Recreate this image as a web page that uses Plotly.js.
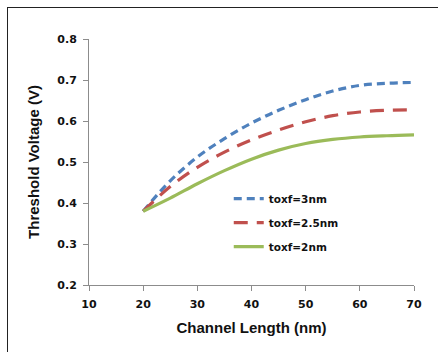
<!DOCTYPE html>
<html>
<head>
<meta charset="utf-8">
<script src="https://cdn.plot.ly/plotly-3.0.1.min.js"></script>
<style>
html,body{margin:0;padding:0;background:#fff;}
#wrap{position:relative;width:438px;height:352px;overflow:hidden;}
#chart{width:438px;height:352px;}
#frame{position:absolute;left:7px;top:7px;width:600px;height:600px;border-left:1.5px solid #222;border-top:1.5px solid #222;pointer-events:none;}
</style>
</head>
<body>
<div id="wrap"><div id="chart"></div><div id="frame"></div></div>
<script>
const channelLength = [20, 25, 30, 35, 40, 45, 50, 55, 60, 65, 70];
const vth_3nm   = [0.380, 0.454, 0.512, 0.557, 0.595, 0.626, 0.652, 0.673, 0.687, 0.692, 0.694];
const vth_2_5nm = [0.380, 0.440, 0.487, 0.524, 0.554, 0.578, 0.598, 0.613, 0.622, 0.626, 0.627];
const vth_2nm   = [0.380, 0.412, 0.447, 0.479, 0.507, 0.529, 0.545, 0.555, 0.561, 0.564, 0.566];
const seriesNames = ['toxf=3nm', 'toxf=2.5nm', 'toxf=2nm'];
const xTicks = [10, 20, 30, 40, 50, 60, 70];
const yTicks = [0.2, 0.3, 0.4, 0.5, 0.6, 0.7, 0.8];

const bold = 'Liberation Sans, Arial, sans-serif';
const traces = [
  {x: channelLength, y: vth_3nm, name: seriesNames[0], mode: 'lines', legendgroup: 'a',
   line: {color: '#4F81BD', width: 3.2, dash: '8px,5px', shape: 'spline'}},
  {x: channelLength, y: vth_2_5nm, name: seriesNames[1], mode: 'lines', legendgroup: 'b',
   line: {color: '#C0504D', width: 3.2, dash: '14px,9px', shape: 'spline'}},
  {x: channelLength, y: vth_2nm, name: seriesNames[2], mode: 'lines', legendgroup: 'c',
   line: {color: '#9BBB59', width: 3.2, shape: 'spline'}}
];
const layout = {
  width: 438, height: 352,
  margin: {l: 89, r: 24, t: 39, b: 67},
  paper_bgcolor: '#fff', plot_bgcolor: '#fff',
  showlegend: true,
  legend: {x: 0.43, y: 0.41, xanchor: 'left', yanchor: 'top', traceorder: 'grouped',
           tracegroupgap: 5, bgcolor: 'rgba(0,0,0,0)',
           font: {family: 'DejaVu Sans, sans-serif', size: 10.5, color: '#111', weight: 'bold'}},
  xaxis: {range: [10, 70], tickvals: xTicks, ticktext: xTicks.map(String),
          showgrid: false, zeroline: false, showline: true, linecolor: '#8c8c8c', linewidth: 1,
          ticks: 'outside', ticklen: 5, tickcolor: '#8c8c8c', ticklabelstandoff: 4,
          tickfont: {family: 'DejaVu Sans, sans-serif', size: 11, color: '#111', weight: 'bold'},
          title: {text: 'Channel Length (nm)', standoff: 12,
                  font: {family: bold, size: 15, color: '#111', weight: 'bold'}}},
  yaxis: {range: [0.2, 0.8], tickvals: yTicks, ticktext: yTicks.map(v => v.toFixed(1)),
          showgrid: false, zeroline: false, showline: true, linecolor: '#8c8c8c', linewidth: 1,
          ticks: 'outside', ticklen: 5, tickcolor: '#8c8c8c', ticklabelstandoff: 4,
          tickfont: {family: 'DejaVu Sans, sans-serif', size: 11, color: '#111', weight: 'bold'},
          title: {text: 'Threshold Voltage (V)', standoff: 14,
                  font: {family: bold, size: 15, color: '#111', weight: 'bold'}}}
};
Plotly.newPlot('chart', traces, layout, {displayModeBar: false, staticPlot: true});
</script>
</body>
</html>
